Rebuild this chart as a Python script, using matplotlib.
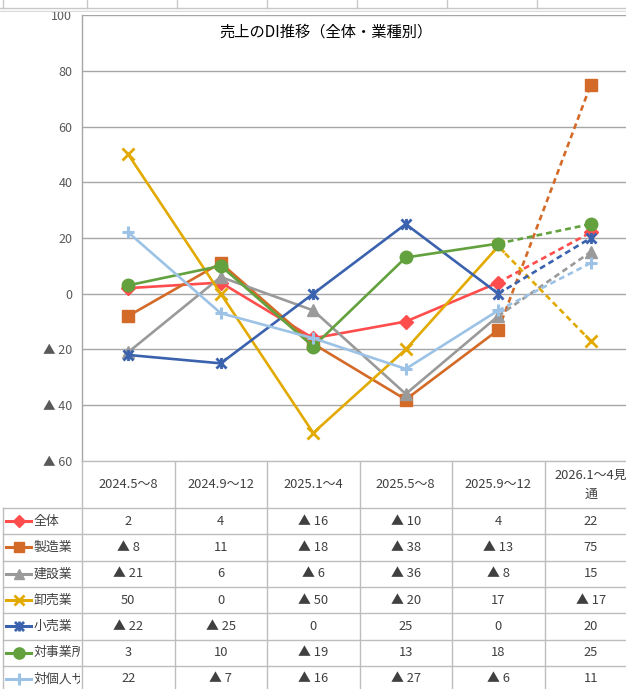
import numpy as np
import matplotlib
matplotlib.use("Agg")
import matplotlib.pyplot as plt
from matplotlib.path import Path
from matplotlib.lines import Line2D
from matplotlib.transforms import Bbox, TransformedBbox

plt.rcParams["font.family"] = ["Noto Sans CJK JP", "DejaVu Sans"]

# ------------------------------------------------------------
# Data
# ------------------------------------------------------------
periods = ["2024.5～8", "2024.9～12", "2025.1～4", "2025.5～8", "2025.9～12", "2026.1～4見\n通"]
series_names = ["全体", "製造業", "建設業", "卸売業", "小売業", "対事業所サービス業", "対個人サービス業"]

di_total = [2, 4, -16, -10, 4, 22]
di_manufacturing = [-8, 11, -18, -38, -13, 75]
di_construction = [-21, 6, -6, -36, -8, 15]
di_wholesale = [50, 0, -50, -20, 17, -17]
di_retail = [-22, -25, 0, 25, 0, 20]
di_business_svc = [3, 10, -19, 13, 18, 25]
di_personal_svc = [22, -7, -16, -27, -6, 11]

series_values = [di_total, di_manufacturing, di_construction, di_wholesale,
                 di_retail, di_business_svc, di_personal_svc]

y_ticks = [-60, -40, -20, 0, 20, 40, 60, 80, 100]

# asterisk-like marker (x with a vertical bar)
star = Path([(-1, -1), (1, 1), (-1, 1), (1, -1), (0, -1.1), (0, 1.1)],
            [Path.MOVETO, Path.LINETO, Path.MOVETO, Path.LINETO, Path.MOVETO, Path.LINETO])

styles = [
    dict(color="#FF4D4D", marker="D", ms=7, mew=1),
    dict(color="#D46A28", marker="s", ms=8, mew=1),
    dict(color="#9A9A9A", marker="^", ms=8.5, mew=1),
    dict(color="#E2AA00", marker="x", ms=8, mew=2),
    dict(color="#3B62AE", marker=star, ms=8, mew=2),
    dict(color="#62A13D", marker="o", ms=9, mew=1),
    dict(color="#9CC3E6", marker="+", ms=9, mew=2.2),
]


def fmt(v):
    return f"▲ {abs(v)}" if v < 0 else str(v)


W, H = 626, 689
fig = plt.figure(figsize=(W / 100, H / 100), dpi=100)
fig.patch.set_facecolor("white")

plot_left, col_w = 82.0, 92.5
plot_top, plot_bottom = 15.2, 460.8
n = len(periods)

# ------------------------------------------------------------
# Line chart
# ------------------------------------------------------------
ax = fig.add_axes([plot_left / W, (H - plot_bottom) / H, col_w * n / W, (plot_bottom - plot_top) / H])
ax.set_xlim(-0.5, n - 0.5)
ax.set_ylim(-60, 100)
ax.set_yticks(y_ticks)
ax.set_yticklabels([fmt(v) for v in y_ticks])
ax.set_xticks([])
ax.tick_params(axis="y", length=0, pad=7, labelsize=9, labelcolor="#595959")
for s in ["top", "right", "bottom"]:
    ax.spines[s].set_visible(False)
ax.spines["left"].set_color("#A6A6A6")
ax.spines["left"].set_linewidth(1.0)
ax.grid(axis="y", color="#A6A6A6", linewidth=1.0)
ax.set_axisbelow(True)

x = np.arange(n)
for vals, st in zip(series_values, styles):
    vals = np.array(vals)
    ax.plot(x[:-1], vals[:-1], color=st["color"], lw=1.9, marker=st["marker"],
            ms=st["ms"], mew=st["mew"], mec=st["color"], mfc=st["color"],
            clip_on=False, solid_capstyle="round")
    ax.plot(x[-2:], vals[-2:], color=st["color"], lw=1.9, ls=(0, (2.2, 1.5)),
            marker=st["marker"], markevery=[1], ms=st["ms"], mew=st["mew"],
            mec=st["color"], mfc=st["color"], clip_on=False)

fig.text(326 / W, 1 - 32 / H, "売上のDI推移（全体・業種別）", ha="center", va="center",
         fontsize=11, color="black")

# ------------------------------------------------------------
# Data table below the chart
# ------------------------------------------------------------
tab = fig.add_axes([0, 0, 1, (H - plot_bottom) / H])
tab.set_xlim(0, W)
tab.set_ylim(H, plot_bottom)
tab.axis("off")

grid_c = "#BDBDBD"
header_bottom, row_h = 508.0, 26.3
edges = plot_left + col_w * np.arange(n + 1)
centers = edges[:-1] + col_w / 2

tab.plot([plot_left, W], [plot_bottom, plot_bottom], color=grid_c, lw=1.0)
for e in edges:
    tab.plot([e, e], [plot_bottom, H], color=grid_c, lw=1.0)
tab.plot([3, 3], [header_bottom, H], color=grid_c, lw=1.0)
for k in range(len(series_names)):
    yy = header_bottom + k * row_h
    tab.plot([3, W], [yy, yy], color=grid_c, lw=1.0)

for cx, lab in zip(centers, periods):
    tab.text(cx, (plot_bottom + header_bottom) / 2, lab, ha="center", va="center",
             fontsize=9.3, color="#404040", linespacing=1.6)

# legend labels are cut off at the edge of the first column
name_clip = TransformedBbox(Bbox.from_extents(3 / W, 0, (plot_left - 2) / W, (H - header_bottom) / H),
                            fig.transFigure)

for k, (name, vals, st) in enumerate(zip(series_names, series_values, styles)):
    cy = header_bottom + (k + 0.5) * row_h
    tab.add_line(Line2D([6, 31], [cy, cy], color=st["color"], lw=2.2))
    tab.add_line(Line2D([18.5], [cy], color=st["color"], marker=st["marker"],
                        ms=st["ms"] * 0.9, mew=st["mew"], mec=st["color"], mfc=st["color"]))
    t = tab.text(34, cy, name, ha="left", va="center", fontsize=9.3, color="#404040")
    t.set_clip_on(True)
    t.set_clip_box(name_clip)
    for cx, v in zip(centers, vals):
        tab.text(cx, cy, fmt(v), ha="center", va="center", fontsize=9.3, color="#404040")

# spreadsheet cell borders above the chart
top = fig.add_axes([0, 1 - 12 / H, 1, 12 / H])
top.set_xlim(0, W)
top.set_ylim(12, 0)
top.axis("off")
for xc in [3, 87, 177, 267, 357, 447, 537]:
    top.plot([xc, xc], [0, 8], color="#C8C8C8", lw=1.0)
top.plot([0, W], [8, 8], color="#C8C8C8", lw=1.0)
top.plot([0, W], [11, 11], color="#DADADA", lw=1.0)

fig.savefig("out.png", dpi=100, facecolor="white")
